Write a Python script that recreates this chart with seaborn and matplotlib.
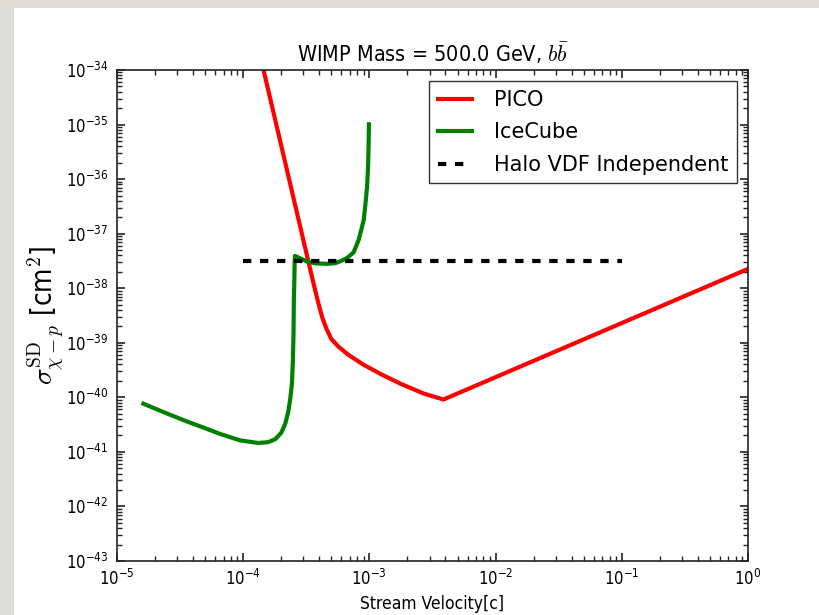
import matplotlib
matplotlib.use("Agg")
import matplotlib.pyplot as plt
from matplotlib.patches import Rectangle
from matplotlib.ticker import LogLocator, NullFormatter, FixedLocator
import numpy as np
import pandas as pd
import seaborn as sns

# PICO limit: stream velocity [c] vs spin-dependent cross section [cm^2]
pico_velocity = [1.449e-4, 3.597e-4, 3.936e-4, 4.236e-4, 4.56e-4, 4.99e-4,
                 5.68e-4, 6.81e-4, 8.95e-4, 1.222e-3, 1.762e-3, 2.685e-3,
                 3.864e-3, 1.0]
pico_sigma = [1.0e-34, 1.259e-38, 5.37e-39, 2.88e-39, 1.82e-39, 1.175e-39,
              8.51e-40, 6.03e-40, 3.98e-40, 2.69e-40, 1.78e-40, 1.175e-40,
              9.12e-41, 2.26e-38]

# IceCube limit
icecube_velocity = [1.617e-5, 2.405e-5, 3.57e-5, 4.99e-5, 6.57e-5, 9.46e-5,
                    1.315e-4, 1.578e-4, 1.795e-4, 2.005e-4, 2.153e-4, 2.275e-4,
                    2.36e-4, 2.435e-4, 2.477e-4, 2.505e-4, 2.52e-4, 2.54e-4,
                    2.558e-4, 2.57e-4, 2.83e-4, 3.21e-4, 3.72e-4, 4.61e-4,
                    5.37e-4, 6.0e-4, 6.68e-4, 7.5e-4, 8.22e-4, 8.75e-4,
                    9.02e-4, 9.29e-4, 9.59e-4, 9.77e-4, 9.86e-4, 9.91e-4]
icecube_sigma = [7.64e-41, 5.22e-41, 3.62e-41, 2.72e-41, 2.13e-41, 1.625e-41,
                 1.456e-41, 1.507e-41, 1.71e-41, 2.25e-41, 3.28e-41, 5.45e-41,
                 9.42e-41, 1.85e-40, 4.89e-40, 1.524e-39, 6.14e-39, 1.256e-38,
                 3.05e-38, 3.92e-38, 3.53e-38, 3.08e-38, 2.86e-38, 2.80e-38,
                 2.88e-38, 3.18e-38, 3.61e-38, 4.55e-38, 7.69e-38, 1.349e-37,
                 1.79e-37, 3.37e-37, 7.29e-37, 1.82e-36, 4.6e-36, 1.01e-35]

# Halo-velocity-distribution independent bound
halo_velocity = [1.0e-4, 1.0e-1]
halo_sigma = [3.2e-38, 3.2e-38]

x_ticks = [1e-5, 1e-4, 1e-3, 1e-2, 1e-1, 1e0]
y_ticks = [10.0 ** p for p in range(-43, -33)]

plt.rcParams.update({
    "font.family": ["DejaVu Sans"],
    "font.stretch": "condensed",
    "mathtext.fontset": "cm",
    "axes.linewidth": 1.2,
    "axes.edgecolor": "#222222",
    "lines.scale_dashes": False,
    "legend.fancybox": False,
})

fig = plt.figure(figsize=(8.2, 6.15), dpi=100, facecolor="white")
ax = fig.add_axes([117 / 820, 1 - 561 / 615, (748 - 117) / 820, (561 - 70) / 615])

df_pico = pd.DataFrame({"v": pico_velocity, "s": pico_sigma})
df_ice = pd.DataFrame({"v": icecube_velocity, "s": icecube_sigma})
df_halo = pd.DataFrame({"v": halo_velocity, "s": halo_sigma})

sns.lineplot(data=df_pico, x="v", y="s", ax=ax, color="red", lw=3,
             estimator=None, sort=False, label="PICO")
sns.lineplot(data=df_ice, x="v", y="s", ax=ax, color="green", lw=3,
             estimator=None, sort=False, label="IceCube")
sns.lineplot(data=df_halo, x="v", y="s", ax=ax, color="black", lw=3,
             estimator=None, sort=False, label="Halo VDF Independent",
             linestyle=(0, (6.0, 6.25)))

ax.set_xscale("log")
ax.set_yscale("log")
ax.set_xlim(1e-5, 1e0)
ax.set_ylim(1e-43, 1e-34)
ax.xaxis.set_major_locator(FixedLocator(x_ticks))
ax.yaxis.set_major_locator(FixedLocator(y_ticks))
for axis in (ax.xaxis, ax.yaxis):
    axis.set_minor_locator(LogLocator(base=10, subs=tuple(range(2, 10)), numticks=100))
    axis.set_minor_formatter(NullFormatter())
ax.minorticks_on()
ax.xaxis.set_minor_locator(LogLocator(base=10, subs=tuple(range(2, 10)), numticks=100))
ax.yaxis.set_minor_locator(LogLocator(base=10, subs=tuple(range(2, 10)), numticks=100))
ax.tick_params(which="both", direction="in", top=True, right=True, color="#222222")
ax.tick_params(which="major", length=6, width=1.2, pad=6, labelsize=12)
ax.tick_params(which="minor", length=3.5, width=1.0)

ax.set_title(r"WIMP Mass = 500.0 GeV, $b\bar{b}$", fontsize=15.5)
ax.set_xlabel("Stream Velocity[c]", fontsize=12.5)
ax.set_ylabel(r"$\sigma^{\rm SD}_{\chi-p}$ [cm$^2$]", fontsize=20, labelpad=0)

leg = ax.legend(loc="upper right", frameon=True,
                prop={"family": "DejaVu Sans", "stretch": "normal", "size": 15},
                handlelength=1.65, handletextpad=1.05, borderpad=0.4,
                labelspacing=0.6, borderaxespad=0.55)
leg.get_frame().set_edgecolor("black")
leg.get_frame().set_linewidth(1.0)

# light grey window frame along the top and left edges
fig.patches.append(Rectangle((0, 1 - 8 / 615), 1, 8 / 615, transform=fig.transFigure,
                             facecolor="#dddcd7", edgecolor="none", zorder=-1))
fig.patches.append(Rectangle((0, 0), 14 / 820, 1, transform=fig.transFigure,
                             facecolor="#dddcd7", edgecolor="none", zorder=-1))

fig.savefig("out.png", dpi=100, facecolor="white")
